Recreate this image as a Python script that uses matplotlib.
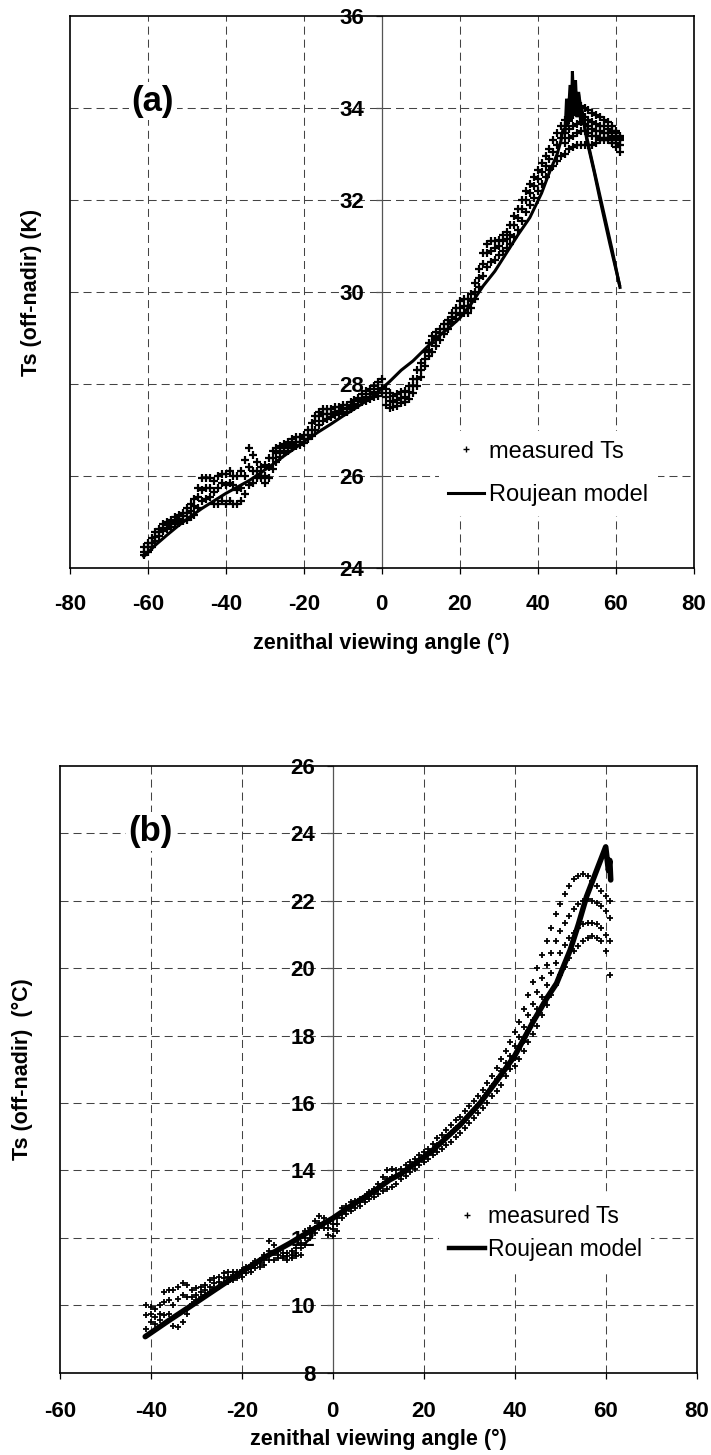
import matplotlib
matplotlib.use('Agg')
import matplotlib.pyplot as plt
from matplotlib.lines import Line2D

plt.rcParams['font.family'] = ['Liberation Sans', 'DejaVu Sans']
plt.rcParams['axes.unicode_minus'] = False

# ---------------- data panel (a) ----------------
xa_meas = [-61, -60, -59, -58, -57, -56, -55, -54, -53, -52, -51, -50, -49, -48, -47, -46, -45, -44, -43, -42,
           -41, -40, -39, -38, -37, -36, -35, -34, -33, -32, -31, -30, -29, -28, -27, -26, -25, -24, -23, -22,
           -21, -20, -19, -18, -17, -16, -15, -14, -13, -12, -11, -10, -9, -8, -7, -6, -5, -4, -3, -2,
           -1, 0, 1, 2, 3, 4, 5, 6, 7, 8, 9, 10, 11, 12, 13, 14, 15, 16, 17, 18,
           19, 20, 21, 22, 23, 24, 25, 26, 27, 28, 29, 30, 31, 32, 33, 34, 35, 36, 37, 38,
           39, 40, 41, 42, 43, 44, 45, 46, 47, 48, 49, 50, 51, 52, 53, 54, 55, 56, 57, 58,
           59, 60, 61]
ya_upper = [24.45, 24.55, 24.65, 24.78, 24.85, 24.95, 25.0, 25.05, 25.1, 25.15, 25.2, 25.3, 25.4, 25.5, 25.75, 25.95, 25.95, 25.95, 25.9, 26.0,
            26.05, 26.05, 26.1, 26.0, 26.0, 26.1, 26.35, 26.6, 26.45, 26.3, 26.2, 26.25, 26.4, 26.55, 26.6, 26.65, 26.7, 26.75, 26.8, 26.85,
            26.85, 26.9, 27.0, 27.15, 27.3, 27.4, 27.45, 27.45, 27.45, 27.5, 27.5, 27.55, 27.55, 27.6, 27.65, 27.7, 27.78, 27.85, 27.9, 27.95,
            28.05, 28.1, 27.9, 27.8, 27.75, 27.78, 27.82, 27.85, 27.95, 28.1, 28.3, 28.45, 28.7, 28.9, 29.05, 29.12, 29.2, 29.3, 29.4, 29.55,
            29.65, 29.8, 29.85, 29.85, 29.95, 30.2, 30.5, 30.85, 31.05, 31.1, 31.1, 31.12, 31.25, 31.3, 31.45, 31.65, 31.8, 32.0, 32.2, 32.35,
            32.5, 32.65, 32.8, 32.95, 33.1, 33.3, 33.45, 33.6, 33.75, 33.9, 34.0, 34.0, 34.05, 34.0, 33.95, 33.9, 33.85, 33.8, 33.75, 33.7,
            33.6, 33.5, 33.4]
ya_mid = [24.35, 24.45, 24.55, 24.68, 24.78, 24.88, 24.93, 24.98, 25.02, 25.07, 25.12, 25.2, 25.25, 25.35, 25.55, 25.7, 25.75, 25.75, 25.65, 25.75,
          25.85, 25.8, 25.85, 25.8, 25.7, 25.75, 26.0, 26.2, 26.1, 26.1, 26.0, 26.0, 26.2, 26.4, 26.5, 26.55, 26.6, 26.65, 26.7, 26.75,
          26.75, 26.8, 26.9, 27.0, 27.2, 27.3, 27.35, 27.35, 27.35, 27.4, 27.42, 27.45, 27.48, 27.52, 27.57, 27.62, 27.68, 27.72, 27.78, 27.82,
          27.9, 27.92, 27.72, 27.62, 27.6, 27.65, 27.7, 27.72, 27.82, 27.95, 28.1, 28.3, 28.55, 28.75, 28.9, 29.0, 29.1, 29.2, 29.3, 29.45,
          29.55, 29.65, 29.7, 29.7, 29.8, 30.0, 30.3, 30.6, 30.85, 30.9, 30.95, 31.0, 31.1, 31.15, 31.25, 31.45, 31.6, 31.8, 32.0, 32.15,
          32.3, 32.45, 32.6, 32.75, 32.9, 33.05, 33.2, 33.35, 33.45, 33.55, 33.6, 33.65, 33.7, 33.65, 33.6, 33.55, 33.5, 33.5, 33.45, 33.45,
          33.4, 33.35, 33.3]
ya_lower = [24.28, 24.35, 24.45, 24.58, 24.7, 24.8, 24.85, 24.9, 24.95, 24.98, 25.02, 25.05, 25.1, 25.15, 25.3, 25.45, 25.5, 25.55, 25.4, 25.4,
            25.45, 25.4, 25.45, 25.4, 25.4, 25.45, 25.6, 25.8, 25.85, 25.95, 25.95, 25.85, 25.95, 26.15, 26.3, 26.42, 26.5, 26.55, 26.6, 26.65,
            26.68, 26.72, 26.8, 26.88, 27.0, 27.1, 27.2, 27.25, 27.28, 27.32, 27.35, 27.38, 27.4, 27.45, 27.5, 27.55, 27.6, 27.62, 27.68, 27.72,
            27.75, 27.8, 27.55, 27.48, 27.5, 27.52, 27.58, 27.6, 27.68, 27.8, 27.95, 28.15, 28.4, 28.6, 28.7, 28.82, 28.95, 29.08, 29.2, 29.35,
            29.42, 29.5, 29.55, 29.55, 29.65, 29.85, 30.1, 30.35, 30.55, 30.65, 30.7, 30.8, 30.9, 30.95, 31.05, 31.2, 31.35, 31.55, 31.75, 31.9,
            32.05, 32.2, 32.35, 32.5, 32.65, 32.75, 32.85, 32.95, 33.0, 33.1, 33.15, 33.2, 33.2, 33.2, 33.2, 33.2, 33.25, 33.3, 33.3, 33.3,
            33.25, 33.15, 33.05]
xa_fan = [47, 48, 49, 50, 51, 52, 53, 54, 55, 56, 57, 58, 59, 60, 61]
ya_fan1 = [33.6, 33.75, 33.85, 33.9, 33.85, 33.8, 33.75, 33.7, 33.65, 33.6, 33.6, 33.55, 33.5, 33.45, 33.35]
ya_fan2 = [33.25, 33.35, 33.4, 33.45, 33.5, 33.5, 33.45, 33.4, 33.4, 33.35, 33.35, 33.35, 33.3, 33.25, 33.2]

xa_model = [-61, -58, -55, -52, -49, -46, -43, -40, -37, -34, -31, -28, -25, -22, -19, -16, -13, -10, -7, -4,
            -1, 0, 2, 5, 8, 11, 14, 17, 20, 23, 26, 29, 32, 35, 38, 41, 43, 45, 46, 46.5,
            47.0, 47.4, 47.7, 48.3, 48.6, 48.9, 49.3, 49.7, 50.1, 50.5, 51.0, 51.3, 52.6, 54.5, 56, 58.5, 61]
ya_model = [24.25, 24.5, 24.72, 24.93, 25.12, 25.3, 25.46, 25.62, 25.76, 25.9, 26.07, 26.25, 26.44, 26.62, 26.8, 26.97, 27.13, 27.3, 27.46, 27.63,
            27.82, 27.9, 28.05, 28.3, 28.5, 28.75, 29.0, 29.2, 29.43, 29.75, 30.13, 30.45, 30.85, 31.25, 31.62, 32.15, 32.6, 33.0, 33.3, 33.55,
            33.45, 34.2, 33.6, 34.5, 33.7, 34.8, 33.85, 34.6, 33.8, 34.35, 33.7, 34.0, 33.3, 32.6, 32.0, 31.05, 30.15]
# second pass of the model on the descending branch
xa_model2 = [50.5, 51.6, 53.0, 55.0, 57.0, 59.0, 61.1]
ya_model2 = [34.3, 33.75, 33.2, 32.45, 31.7, 30.95, 30.1]

# ---------------- data panel (b) ----------------
xb_meas = [-41, -40, -39, -38, -37, -36, -35, -34, -33, -32, -31, -30, -29, -28, -27, -26, -25, -24, -23, -22,
           -21, -20, -19, -18, -17, -16, -15, -14, -13, -12, -11, -10, -9, -8, -7, -6, -5, -4, -3, -2,
           -1, 0, 1, 2, 3, 4, 5, 6, 7, 8, 9, 10, 11, 12, 13, 14, 15, 16, 17, 18,
           19, 20, 21, 22, 23, 24, 25, 26, 27, 28, 29, 30, 31, 32, 33, 34, 35, 36, 37, 38, 39]
yb_upper = [10.0, 9.95, 9.9, 10.0, 10.4, 10.45, 10.45, 10.55, 10.65, 10.6, 10.45, 10.5, 10.55, 10.6, 10.75, 10.8, 10.85, 10.95, 11.0, 11.0,
            11.0, 11.05, 11.15, 11.2, 11.3, 11.35, 11.5, 11.9, 11.8, 11.6, 11.55, 11.55, 11.6, 11.7, 11.85, 12.2, 12.3, 12.5, 12.65, 12.6,
            12.45, 12.4, 12.6, 12.9, 12.95, 13.05, 13.1, 13.15, 13.25, 13.35, 13.45, 13.6, 13.8, 14.0, 14.05, 14.0, 14.05, 14.15, 14.25, 14.35,
            14.45, 14.55, 14.65, 14.8, 14.95, 15.05, 15.2, 15.35, 15.5, 15.6, 15.75, 15.9, 16.05, 16.2, 16.4, 16.6, 16.8, 17.05, 17.3, 17.55, 17.8]
yb_mid = [9.7, 9.75, 9.65, 9.75, 10.1, 10.15, 10.0, 10.2, 10.3, 10.25, 10.25, 10.3, 10.4, 10.45, 10.55, 10.65, 10.7, 10.8, 10.85, 10.9,
          10.9, 10.95, 11.05, 11.1, 11.2, 11.25, 11.35, 11.6, 11.55, 11.5, 11.45, 11.45, 11.5, 11.55, 11.7, 12.0, 12.15, 12.3, 12.45, 12.45,
          12.3, 12.25, 12.4, 12.75, 12.85, 12.95, 13.0, 13.05, 13.15, 13.25, 13.35, 13.45, 13.6, 13.75, 13.8, 13.85, 13.9, 14.0, 14.1, 14.2,
          14.3, 14.4, 14.5, 14.62, 14.75, 14.85, 15.0, 15.1, 15.25, 15.35, 15.5, 15.65, 15.8, 15.95, 16.15, 16.3, 16.5, 16.7, 16.95, 17.2, 17.4]
yb_lower = [9.3, 9.5, 9.45, 9.55, 9.7, 9.75, 9.4, 9.35, 9.5, 9.75, 10.05, 10.15, 10.25, 10.3, 10.4, 10.5, 10.55, 10.65, 10.7, 10.75,
            10.8, 10.85, 10.95, 11.0, 11.1, 11.15, 11.2, 11.35, 11.35, 11.4, 11.4, 11.35, 11.4, 11.45, 11.5, 11.8, 12.0, 12.15, 12.3, 12.3,
            12.1, 12.05, 12.2, 12.6, 12.7, 12.8, 12.9, 12.95, 13.05, 13.15, 13.2, 13.3, 13.4, 13.45, 13.5, 13.6, 13.75, 13.85, 13.95, 14.05,
            14.15, 14.25, 14.35, 14.45, 14.55, 14.65, 14.75, 14.85, 15.0, 15.1, 15.25, 15.4, 15.55, 15.7, 15.85, 16.0, 16.2, 16.35, 16.55, 16.8, 17.0]
xb_fan = [40, 41, 42, 43, 44, 45, 46, 47, 48, 49, 50, 51, 52, 53, 54, 55, 56, 57, 58, 59, 60, 61]
yb_fan1 = [18.1, 18.4, 18.8, 19.2, 19.6, 20.0, 20.4, 20.8, 21.2, 21.6, 21.9, 22.2, 22.45, 22.65, 22.75, 22.8, 22.75, 22.6, 22.45, 22.3, 22.15, 22.0]
yb_fan2 = [17.7, 17.95, 18.25, 18.6, 18.95, 19.3, 19.7, 20.1, 20.45, 20.8, 21.1, 21.35, 21.55, 21.75, 21.9, 22.0, 22.05, 22.0, 21.95, 21.85, 21.7, 21.5]
yb_fan3 = [17.35, 17.6, 17.85, 18.15, 18.45, 18.8, 19.15, 19.5, 19.85, 20.15, 20.45, 20.7, 20.9, 21.05, 21.2, 21.3, 21.35, 21.35, 21.3, 21.2, 21.0, 20.8]
yb_fan4 = [17.1, 17.3, 17.55, 17.8, 18.05, 18.3, 18.6, 18.9, 19.2, 19.5, 19.8, 20.05, 20.3, 20.5, 20.65, 20.8, 20.9, 20.95, 20.9, 20.8, 20.5, 19.8]

xb_model = [-41.2, -36, -31.4, -26, -19.9, -15, -9.4, -5, 0, 4, 8.9, 12.5, 15, 20, 22, 24, 28, 32.4, 36, 40,
            44, 47, 49.2, 52.2, 54, 55.8, 58, 60, 60.6, 60.9, 61.1]
yb_model = [9.07, 9.55, 9.96, 10.45, 11.0, 11.42, 11.84, 12.2, 12.58, 12.95, 13.37, 13.72, 13.9, 14.4, 14.6, 14.85, 15.35, 16.0, 16.65, 17.4,
            18.4, 19.1, 19.55, 20.54, 21.3, 22.13, 22.9, 23.6, 22.9, 23.2, 22.62]

# ---------------- figure ----------------
W, H = 711, 1455
fig = plt.figure(figsize=(W / 100, H / 100), dpi=100)

ax_a = fig.add_axes([69.7 / W, 1 - 568 / H, 624 / W, 552 / H])
ax_b = fig.add_axes([59.7 / W, 1 - 1372.7 / H, 637 / W, 606.7 / H])

TICK_FS = 16
LAB_FS = 15.5
GRID_LS = (0, (7.7, 4.8))


def style(ax, xlim, ylim, xticks, yticks, xpad):
    ax.set_xlim(*xlim)
    ax.set_ylim(*ylim)
    ax.set_xticks(xticks)
    ax.set_yticks(yticks)
    for xv in xticks[1:-1]:
        if xv != 0:
            ax.axvline(xv, color='#444444', lw=0.75, ls=GRID_LS, zorder=0)
    for yv in yticks[1:-1]:
        ax.axhline(yv, color='#444444', lw=0.75, ls=GRID_LS, zorder=0)
    ax.spines['left'].set_position(('data', 0))
    ax.spines['left'].set_color('#555555')
    ax.spines['left'].set_linewidth(0.9)
    for s in ['top', 'right', 'bottom']:
        ax.spines[s].set_linewidth(1.2)
        ax.spines[s].set_color('black')
    ax.add_line(Line2D([0, 0], [0, 1], transform=ax.transAxes, color='black', lw=1.2, clip_on=False))
    ax.tick_params(axis='x', direction='out', length=4.5, width=0.9, pad=xpad, labelsize=TICK_FS)
    ax.tick_params(axis='y', direction='out', length=4.5, width=0.9, pad=8, labelsize=TICK_FS, color='#555555')
    for lab in ax.get_xticklabels() + ax.get_yticklabels():
        lab.set_fontweight('bold')


# ---- panel (a)
style(ax_a, (-80, 80), (24, 36), [-80, -60, -40, -20, 0, 20, 40, 60, 80], [24, 26, 28, 30, 32, 34, 36], 14.5)
ms_kw = dict(ls='none', marker='+', color='black', ms=6, mew=1.6, zorder=3)
ax_a.plot(xa_meas, ya_upper, **ms_kw)
ax_a.plot(xa_meas, ya_mid, **ms_kw)
ax_a.plot(xa_meas, ya_lower, **ms_kw)
ax_a.plot(xa_fan, ya_fan1, **ms_kw)
ax_a.plot(xa_fan, ya_fan2, **ms_kw)
ax_a.plot(xa_model, ya_model, color='black', lw=2.2, zorder=4, solid_joinstyle='miter')
ax_a.plot(xa_model2, ya_model2, color='black', lw=2.2, zorder=4)
ax_a.text(-58.7, 34.15, '(a)', fontsize=25, fontweight='bold', ha='center', va='center',
          bbox=dict(facecolor='white', edgecolor='none', pad=2), zorder=5)
ha = [Line2D([], [], ls='none', marker='+', color='black', ms=4, mew=1.0),
      Line2D([], [], color='black', lw=2.2)]
leg_a = ax_a.legend(ha, ['measured Ts', 'Roujean model'], loc='center', bbox_to_anchor=(0.767, 0.171),
                    fontsize=17, frameon=True, fancybox=False, framealpha=1, edgecolor='none',
                    handlelength=1.5, handletextpad=0.25, labelspacing=0.92, borderpad=0.4)
leg_a.set_zorder(6)

# ---- panel (b)
style(ax_b, (-60, 80), (8, 26), [-60, -40, -20, 0, 20, 40, 60, 80], [8, 10, 12, 14, 16, 18, 20, 22, 24, 26], 16)
ms_kw_b = dict(ls='none', marker='+', color='black', ms=5, mew=1.3, zorder=3)
ax_b.plot(xb_meas, yb_upper, **ms_kw_b)
ax_b.plot(xb_meas, yb_mid, **ms_kw_b)
ax_b.plot(xb_meas, yb_lower, **ms_kw_b)
ax_b.plot(xb_fan, yb_fan1, **ms_kw_b)
ax_b.plot(xb_fan, yb_fan2, **ms_kw_b)
ax_b.plot(xb_fan, yb_fan3, **ms_kw_b)
ax_b.plot(xb_fan, yb_fan4, **ms_kw_b)
ax_b.plot(xb_model, yb_model, color='black', lw=4, zorder=4, solid_capstyle='round', solid_joinstyle='round')
ax_b.text(-40, 24.05, '(b)', fontsize=25, fontweight='bold', ha='center', va='center',
          bbox=dict(facecolor='white', edgecolor='none', pad=2), zorder=5)
hb = [Line2D([], [], ls='none', marker='+', color='black', ms=4, mew=1.0),
      Line2D([], [], color='black', lw=3.2)]
leg_b = ax_b.legend(hb, ['measured Ts', 'Roujean model'], loc='center', bbox_to_anchor=(0.762, 0.2296),
                    fontsize=16.5, frameon=True, fancybox=False, framealpha=1, edgecolor='none',
                    handlelength=1.6, handletextpad=0.1, labelspacing=0.44, borderpad=0.4)
leg_b.set_zorder(6)

# axis labels
fig.text(381.7 / W, 1 - 643 / H, 'zenithal viewing angle (°)', fontsize=LAB_FS, fontweight='bold',
         ha='center', va='center')
fig.text(32 / W, 1 - 292 / H, 'Ts (off-nadir) (K)', fontsize=LAB_FS, fontweight='bold',
         ha='center', va='center', rotation=90)
fig.text(378 / W, 1 - 1439 / H, 'zenithal viewing angle (°)', fontsize=LAB_FS, fontweight='bold',
         ha='center', va='center')
fig.text(22 / W, 1 - 1069 / H, 'Ts (off-nadir)  (°C)', fontsize=LAB_FS, fontweight='bold',
         ha='center', va='center', rotation=90)

fig.savefig('out.png', dpi=100)
